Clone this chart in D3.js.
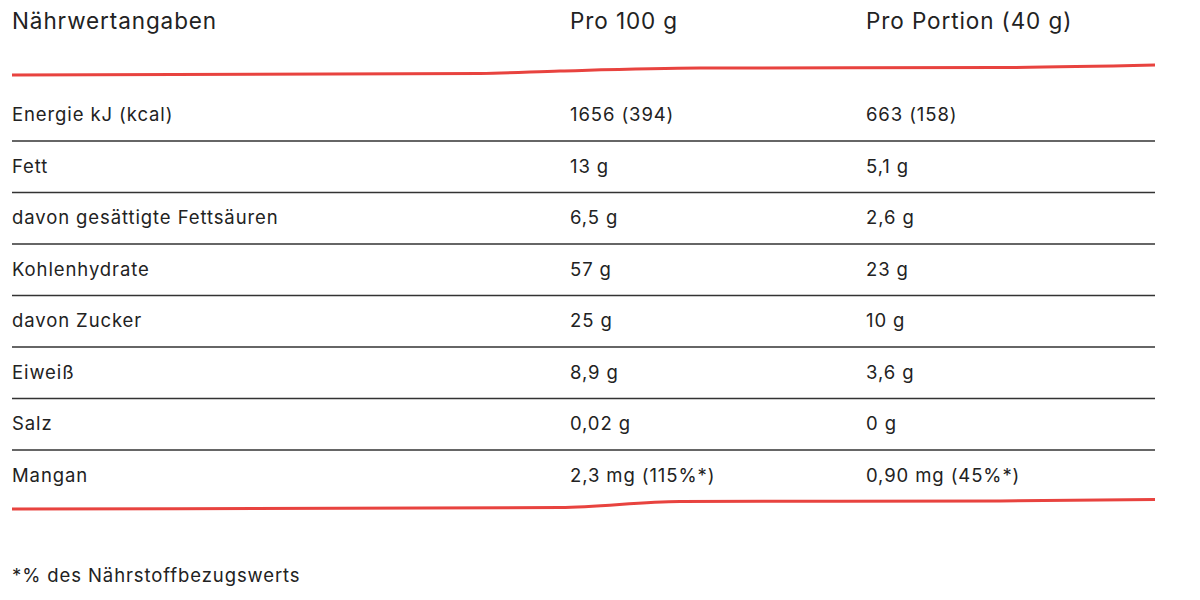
<!DOCTYPE html>
<html><head><meta charset="utf-8">
<script src="https://cdn.jsdelivr.net/npm/d3@7"></script>
<style>body{margin:0;background:#fff}svg{display:block}text{font-family:Inter,"Open Sans",sans-serif;fill:#222}</style>
</head><body><svg id="c" width="1200" height="600"></svg>
<script>
const headers = ["Nährwertangaben", "Pro 100 g", "Pro Portion (40 g)"];
const nutrients = ["Energie kJ (kcal)", "Fett", "davon gesättigte Fettsäuren", "Kohlenhydrate", "davon Zucker", "Eiweiß", "Salz", "Mangan"];
const per100 = ["1656 (394)", "13 g", "6,5 g", "57 g", "25 g", "8,9 g", "0,02 g", "2,3 mg (115%*)"];
const perPortion = ["663 (158)", "5,1 g", "2,6 g", "23 g", "10 g", "3,6 g", "0 g", "0,90 mg (45%*)"];
const footnote = "*% des Nährstoffbezugswerts";

const svg = d3.select("#c");
const colX = d3.scaleOrdinal().domain([0,1,2]).range([12, 570, 866]);
const rowY = d3.scaleLinear().domain([0, nutrients.length]).range([115, 115 + 51.5*nutrients.length]);

svg.selectAll("text.h").data(headers).join("text").attr("class","h")
  .attr("x",(d,i)=>colX(i)).attr("y",29).attr("font-size",22.5).attr("letter-spacing",0.9).text(d=>d);

const line = d3.line().curve(d3.curveMonotoneX);
svg.append("path").attr("d", line([[12,75],[480,73.5],[560,71],[700,68],[1000,67.5],[1155,65]]))
  .attr("fill","none").attr("stroke","#e8433f").attr("stroke-width",3);
svg.append("path").attr("d", line([[12,509],[560,507.5],[680,501.5],[1000,501],[1155,499.5]]))
  .attr("fill","none").attr("stroke","#e8433f").attr("stroke-width",3);

const rows = svg.selectAll("g.r").data(nutrients.map((n,i)=>[n,per100[i],perPortion[i]])).join("g").attr("class","r");
rows.each(function(r,i){
  const g=d3.select(this);
  r.forEach((t,j)=>g.append("text").attr("x",colX(j)).attr("y",rowY(i)).attr("dy","0.35em").attr("font-size",18.5).attr("letter-spacing",0.9).text(t));
  if(i<nutrients.length-1) g.append("line").attr("x1",12).attr("x2",1155)
    .attr("y1",rowY(i)+26).attr("y2",rowY(i)+26).attr("stroke","#333").attr("stroke-width",1.5);
});
svg.append("text").attr("x",12).attr("y",576).attr("dy","0.35em").attr("font-size",18.5).attr("letter-spacing",0.9).text(footnote);
</script></body></html>
